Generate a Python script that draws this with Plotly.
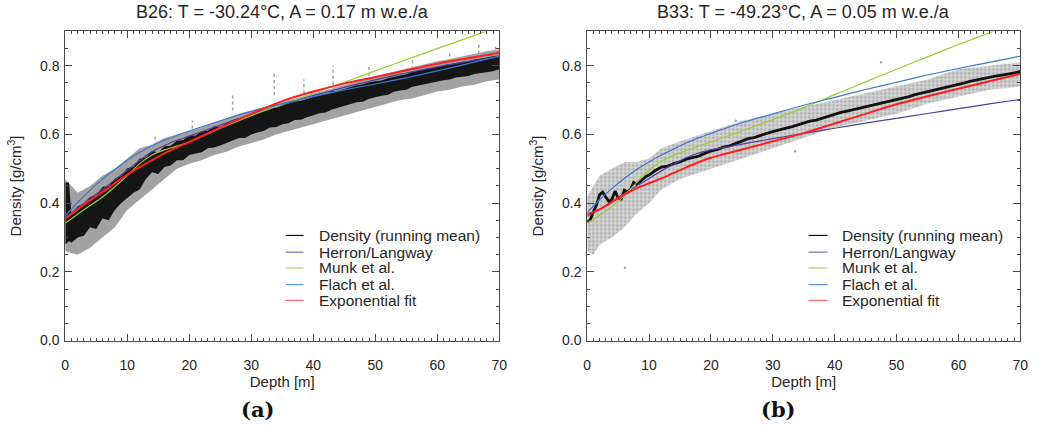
import plotly.graph_objects as go

# ---------------- B26 (panel a) ----------------
b26_depth = [0, 2, 4, 6, 8, 10, 12, 14, 16, 18, 20, 25, 30, 35, 40, 45, 50, 55, 60, 65, 70]
b26_herron = [0.358, 0.385, 0.413, 0.440, 0.468, 0.496, 0.524, 0.550, 0.568, 0.583, 0.595,
              0.627, 0.658, 0.687, 0.713, 0.737, 0.759, 0.779, 0.797, 0.813, 0.826]
b26_munk = [0.342, 0.368, 0.393, 0.418, 0.448, 0.480, 0.515, 0.540, 0.555, 0.566, 0.578,
            0.618, 0.655, 0.688, 0.720, 0.752, 0.785, 0.818, 0.850, 0.882, 0.915]
b26_flach = [0.363, 0.402, 0.438, 0.470, 0.498, 0.525, 0.548, 0.567, 0.583, 0.597, 0.610,
             0.640, 0.667, 0.690, 0.710, 0.730, 0.747, 0.765, 0.785, 0.806, 0.828]
b26_expfit = [0.355, 0.382, 0.408, 0.432, 0.458, 0.483, 0.505, 0.525, 0.545, 0.562, 0.578,
              0.620, 0.660, 0.697, 0.725, 0.748, 0.767, 0.787, 0.806, 0.822, 0.838]

# running-mean envelope, 1 m steps (plus the narrow near-surface spike)
b26_mean_depth = [0, 0.6] + list(range(1, 71))
b26_mean_lo = [0.28, 0.29, 0.285, 0.30, 0.305, 0.33, 0.325, 0.355, 0.35, 0.38, 0.40, 0.415,
               0.43, 0.44, 0.47, 0.49, 0.485, 0.505, 0.51, 0.525, 0.525, 0.54, 0.545, 0.548,
               0.56, 0.562, 0.568, 0.575, 0.582, 0.59, 0.59, 0.60, 0.606, 0.61, 0.62, 0.622,
               0.63, 0.633, 0.642, 0.643, 0.65, 0.655, 0.662, 0.664, 0.673, 0.678, 0.683,
               0.688, 0.694, 0.695, 0.704, 0.708, 0.713, 0.715, 0.724, 0.728, 0.73, 0.739,
               0.743, 0.745, 0.75, 0.755, 0.758, 0.76, 0.766, 0.768, 0.77, 0.776, 0.778,
               0.782, 0.784, 0.79]
b26_mean_hi = [0.46, 0.46, 0.37, 0.39, 0.40, 0.418, 0.422, 0.447, 0.45, 0.472, 0.478, 0.502,
               0.505, 0.53, 0.533, 0.552, 0.548, 0.566, 0.567, 0.582, 0.584, 0.597, 0.597,
               0.609, 0.611, 0.624, 0.622, 0.634, 0.642, 0.648, 0.65, 0.659, 0.66, 0.669,
               0.676, 0.678, 0.683, 0.69, 0.696, 0.698, 0.703, 0.71, 0.715, 0.718, 0.726,
               0.727, 0.733, 0.737, 0.743, 0.746, 0.752, 0.755, 0.757, 0.764, 0.769, 0.772,
               0.775, 0.782, 0.786, 0.79, 0.793, 0.797, 0.80, 0.805, 0.808, 0.811, 0.813,
               0.818, 0.82, 0.824, 0.828, 0.83]
# spread of the individual samples, 2 m steps
b26_raw_depth = list(range(0, 71, 2))
b26_raw_lo = [0.26, 0.25, 0.27, 0.30, 0.33, 0.38, 0.41, 0.44, 0.47, 0.50, 0.515, 0.525,
              0.54, 0.55, 0.565, 0.575, 0.585, 0.60, 0.61, 0.62, 0.63, 0.64, 0.65, 0.66,
              0.67, 0.68, 0.69, 0.70, 0.705, 0.715, 0.725, 0.73, 0.74, 0.745, 0.755, 0.76]
b26_raw_hi = [0.47, 0.43, 0.45, 0.48, 0.50, 0.53, 0.56, 0.57, 0.59, 0.60, 0.61, 0.62,
              0.635, 0.645, 0.66, 0.67, 0.68, 0.69, 0.70, 0.71, 0.72, 0.73, 0.74, 0.75,
              0.76, 0.77, 0.778, 0.787, 0.796, 0.805, 0.813, 0.82, 0.828, 0.835, 0.842, 0.848]
# isolated high readings standing out above the band (depth, low end, high end)
b26_spike_depth = [14.5, 20.5, 27.0, 33.7, 38.5, 43.2, 49.0, 56.0, 62.0, 66.7, 69.4]
b26_spike_lo = [0.55, 0.60, 0.67, 0.715, 0.72, 0.745, 0.77, 0.79, 0.81, 0.80, 0.83]
b26_spike_hi = [0.60, 0.64, 0.72, 0.778, 0.76, 0.800, 0.80, 0.82, 0.84, 0.864, 0.86]

# ---------------- B33 (panel b) ----------------
b33_depth = [0, 2, 4, 6, 8, 10, 12, 14, 16, 18, 20, 25, 30, 35, 40, 45, 50, 55, 60, 65, 70]
b33_herron = [0.362, 0.382, 0.405, 0.428, 0.450, 0.472, 0.494, 0.514, 0.532, 0.546, 0.555,
              0.572, 0.588, 0.603, 0.618, 0.633, 0.647, 0.661, 0.675, 0.689, 0.702]
b33_munk = [0.342, 0.365, 0.390, 0.422, 0.460, 0.496, 0.522, 0.540, 0.553, 0.566, 0.578,
            0.610, 0.643, 0.678, 0.716, 0.753, 0.790, 0.826, 0.862, 0.896, 0.930]
b33_flach = [0.373, 0.410, 0.443, 0.472, 0.498, 0.520, 0.540, 0.558, 0.575, 0.590, 0.603,
             0.634, 0.660, 0.685, 0.708, 0.731, 0.752, 0.773, 0.792, 0.810, 0.828]
b33_expfit = [0.368, 0.382, 0.403, 0.425, 0.443, 0.458, 0.472, 0.488, 0.504, 0.519, 0.532,
              0.556, 0.580, 0.604, 0.632, 0.660, 0.688, 0.711, 0.733, 0.755, 0.776]

b33_mean_depth = [0, 0.5, 1, 1.5, 2, 2.5, 3, 3.5, 4, 4.5, 5, 5.5, 6, 6.5, 7, 7.5, 8, 8.5,
                  9, 9.5, 10, 11, 12, 13, 14, 15, 16, 17, 18, 19, 20, 21, 22, 23, 24, 25,
                  26, 27, 28, 29, 30, 31, 32, 33, 34, 35, 36, 37, 38, 39, 40, 41, 42, 43,
                  44, 45, 46, 47, 48, 49, 50, 51, 52, 53, 54, 55, 56, 57, 58, 59, 60, 61,
                  62, 63, 64, 65, 66, 67, 68, 69, 70]
b33_mean = [0.345, 0.352, 0.375, 0.395, 0.425, 0.432, 0.418, 0.405, 0.412, 0.435, 0.415,
            0.412, 0.438, 0.432, 0.440, 0.460, 0.455, 0.463, 0.470, 0.478, 0.482, 0.495,
            0.505, 0.508, 0.515, 0.520, 0.528, 0.532, 0.537, 0.545, 0.552, 0.556, 0.563,
            0.567, 0.574, 0.580, 0.588, 0.591, 0.598, 0.603, 0.608, 0.614, 0.618, 0.622,
            0.628, 0.633, 0.639, 0.642, 0.648, 0.654, 0.658, 0.664, 0.668, 0.672, 0.676,
            0.680, 0.686, 0.690, 0.694, 0.697, 0.700, 0.706, 0.710, 0.716, 0.720, 0.726,
            0.729, 0.733, 0.737, 0.742, 0.746, 0.750, 0.755, 0.758, 0.761, 0.766, 0.770,
            0.772, 0.776, 0.779, 0.783]

b33_band_depth = [0, 1, 2, 4, 6, 8, 10, 12, 15, 20, 25, 30, 35, 40, 45, 50, 55, 60, 65, 70]
b33_raw_lo = [0.26, 0.25, 0.28, 0.30, 0.33, 0.37, 0.40, 0.44, 0.47, 0.50, 0.53, 0.56, 0.59,
              0.62, 0.64, 0.66, 0.69, 0.71, 0.73, 0.74]
b33_raw_hi = [0.42, 0.45, 0.48, 0.50, 0.52, 0.52, 0.53, 0.56, 0.58, 0.61, 0.64, 0.66, 0.68,
              0.70, 0.72, 0.74, 0.76, 0.79, 0.80, 0.81]
b33_stray_depth = [6.1, 24.0, 33.6, 47.5]
b33_stray_density = [0.212, 0.640, 0.551, 0.810]

# ---------------- styling ----------------
C_MEAN = "#111111"
C_HERRON = "#4f3f9f"
C_MUNK = "#9acd32"
C_FLACH = "#3a78d0"
C_EXP = "#ff1f1f"
C_AXIS = "#4a4a4a"
C_TEXT = "#262626"
FONT = "Liberation Sans"

X_DOMAINS = [(0.0589, 0.4762), (0.5608, 0.9772)]
Y_DOMAIN = (0.1968, 0.9259)

fig = go.Figure()


def add_band(depth, lo, hi, xa, ya, **fill):
    fig.add_trace(go.Scatter(x=depth, y=lo, mode="lines", line=dict(width=0),
                             hoverinfo="skip", showlegend=False, xaxis=xa, yaxis=ya))
    fig.add_trace(go.Scatter(x=depth, y=hi, mode="lines", line=dict(width=0),
                             fill="tonexty", hoverinfo="skip", showlegend=False,
                             xaxis=xa, yaxis=ya, **fill))


def add_models(depth, herron, munk, flach, expfit, xa, ya):
    for vals, col, w in ((herron, C_HERRON, 1.2), (munk, C_MUNK, 1.2),
                         (flach, C_FLACH, 1.2), (expfit, C_EXP, 2.0)):
        fig.add_trace(go.Scatter(x=depth, y=vals, mode="lines",
                                 line=dict(color=col, width=w, shape="spline", smoothing=0.8),
                                 showlegend=False, xaxis=xa, yaxis=ya))


# panel a: raw samples (grey) and the running mean (dense black band)
add_band(b26_raw_depth, b26_raw_lo, b26_raw_hi, "x", "y", fillcolor="#a2a2a2")
spike_x, spike_y = [], []
for d, lo, hi in zip(b26_spike_depth, b26_spike_lo, b26_spike_hi):
    spike_x += [d, d, None]
    spike_y += [lo, hi, None]
fig.add_trace(go.Scatter(x=spike_x, y=spike_y, mode="lines",
                         line=dict(color="#a0a0a0", width=1.5, dash="dot"),
                         showlegend=False, xaxis="x", yaxis="y"))
add_band(b26_mean_depth, b26_mean_lo, b26_mean_hi, "x", "y", fillcolor="#151515")
add_models(b26_depth, b26_herron, b26_munk, b26_flach, b26_expfit, "x", "y")

# panel b: scattered raw samples, running mean line, models
add_band(b33_band_depth, b33_raw_lo, b33_raw_hi, "x2", "y2",
         fillcolor="rgba(0,0,0,0)",
         fillpattern=dict(shape=".", fgcolor="#8c8c8c", bgcolor="#d6d6d6",
                          size=4, solidity=0.45))
fig.add_trace(go.Scatter(x=b33_stray_depth, y=b33_stray_density, mode="markers",
                         marker=dict(color="#a6a6a6", size=2.5), showlegend=False,
                         xaxis="x2", yaxis="y2"))
fig.add_trace(go.Scatter(x=b33_mean_depth, y=b33_mean, mode="lines",
                         line=dict(color=C_MEAN, width=2.8), showlegend=False,
                         xaxis="x2", yaxis="y2"))
add_models(b33_depth, b33_herron, b33_munk, b33_flach, b33_expfit, "x2", "y2")

# axes
axis_common = dict(showline=True, linecolor=C_AXIS, linewidth=1, mirror="ticks",
                   ticks="inside", tickcolor=C_AXIS, showgrid=False, zeroline=False,
                   tickfont=dict(family=FONT, size=14, color=C_TEXT))
for i, suffix in enumerate(["", "2"]):
    fig.update_layout(**{
        "xaxis" + suffix: dict(axis_common, domain=X_DOMAINS[i], range=[0, 70],
                               dtick=10, ticklen=7, ticklabelstandoff=12,
                               minor=dict(ticks="inside", dtick=1, ticklen=3,
                                          tickcolor=C_AXIS),
                               title=dict(text="Depth [m]", standoff=1,
                                          font=dict(family=FONT, size=15, color=C_TEXT)),
                               anchor="y" + suffix),
        "yaxis" + suffix: dict(axis_common, domain=Y_DOMAIN, range=[0, 0.9],
                               dtick=0.2, tickformat=".1f", ticklen=7, ticklabelstandoff=2,
                               minor=dict(ticks="inside", dtick=0.05, ticklen=3,
                                          tickcolor=C_AXIS),
                               title=dict(text="Density [g/cm<sup>3</sup>]", standoff=14,
                                          font=dict(family=FONT, size=15, color=C_TEXT)),
                               anchor="x" + suffix),
    })

# panel titles and sub-figure labels
titles = ["B26: T = -30.24°C, A = 0.17 m w.e./a", "B33: T = -49.23°C, A = 0.05 m w.e./a"]
labels = ["(a)", "(b)"]
label_x = [0.2433, 0.7443]
for i in range(2):
    xc = (X_DOMAINS[i][0] + X_DOMAINS[i][1]) / 2
    fig.add_annotation(text=titles[i], x=xc, y=0.972, xref="paper", yref="paper",
                       showarrow=False, xanchor="center", yanchor="middle",
                       font=dict(family=FONT, size=18, color=C_TEXT))
    fig.add_annotation(text="<b>" + labels[i] + "</b>", x=label_x[i], y=0.035,
                       xref="paper", yref="paper", showarrow=False,
                       xanchor="center", yanchor="middle",
                       font=dict(family="DejaVu Serif", size=21, color="#111111"))

# legends drawn inside each panel
legend_names = ["Density (running mean)", "Herron/Langway", "Munk et al.",
                "Flach et al.", "Exponential fit"]
legend_colors = [C_MEAN, "#7a6cc4", "#a9d65a", "#5a92dc", "#ff6a6a"]
legend_y = [0.340, 0.286, 0.235, 0.181, 0.130]
legend_line_x = [(0.508, 0.549), (0.511, 0.555)]
legend_text_x = [0.581, 0.584]
for i, suffix in enumerate(["", "2"]):
    for name, col, yy in zip(legend_names, legend_colors, legend_y):
        fig.add_shape(type="line", xref="x" + suffix + " domain",
                      yref="y" + suffix + " domain",
                      x0=legend_line_x[i][0], x1=legend_line_x[i][1], y0=yy, y1=yy,
                      line=dict(color=col, width=1.2))
        fig.add_annotation(text=name, xref="x" + suffix + " domain",
                           yref="y" + suffix + " domain", x=legend_text_x[i], y=yy,
                           showarrow=False, xanchor="left", yanchor="middle",
                           font=dict(family=FONT, size=15.5, color=C_TEXT))

fig.update_layout(width=1052, height=432, margin=dict(l=0, r=0, t=0, b=0),
                  paper_bgcolor="white", plot_bgcolor="white", showlegend=False)

fig.write_html("out.html")
